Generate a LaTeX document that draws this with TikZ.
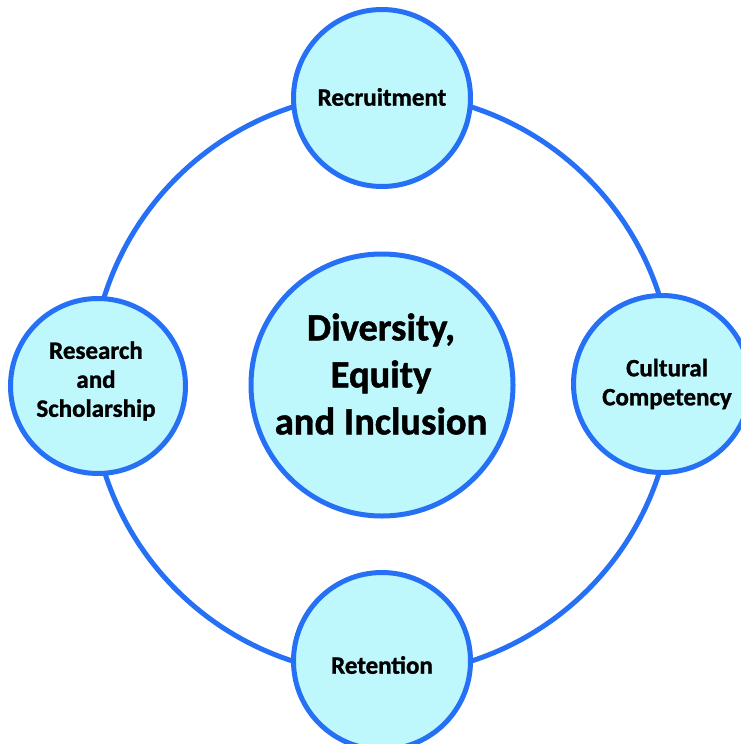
\documentclass[tikz,border=0pt]{standalone}
\usepackage{fontspec}
\setmainfont[BoldFeatures={FakeBold=1.2}]{Carlito}
\definecolor{ringblue}{RGB}{38,112,246}
\definecolor{bubblefill}{RGB}{190,248,252}
\begin{document}
\begin{tikzpicture}[x=1pt,y=-1pt,
  bubble/.style={circle,draw=ringblue,line width=5pt,fill=bubblefill,
    inner sep=0pt,align=center},
  smalltext/.style={font=\bfseries\fontsize{25}{29}\selectfont,align=center},
  bigtext/.style={font=\bfseries\fontsize{38.5}{47}\selectfont,align=center},
  ring/.style={draw=ringblue,line width=5pt}]
  \useasboundingbox (0,0) rectangle (741,744);
  % outer ring joining the four themes
  \coordinate (ringc) at (382,384);
  \draw[ring] (ringc) circle[radius=291];
  % central theme
  \node[bubble,minimum size=262pt] (dei) at (382,385) {};
  \node[bigtext] (deitext) at (381,374) {Diversity,\\Equity\\and Inclusion};
  % four surrounding themes
  \node[bubble,minimum size=177pt] (recruit) at (382,98) {};
  \node[smalltext] (recruittext) at (382,97) {Recruitment};
  \node[bubble,minimum size=177pt] (retain) at (382,661) {};
  \node[smalltext] (retaintext) at (382,665) {Retention};
  \node[bubble,minimum size=175pt] (research) at (98,386) {};
  \node[smalltext] (researchtext) at (96,381) {Research\\and\\Scholarship};
  \node[bubble,minimum size=177pt] (culture) at (662,384) {};
  \node[smalltext] (culturetext) at (667,384) {Cultural\\Competency};
\end{tikzpicture}
\end{document}
